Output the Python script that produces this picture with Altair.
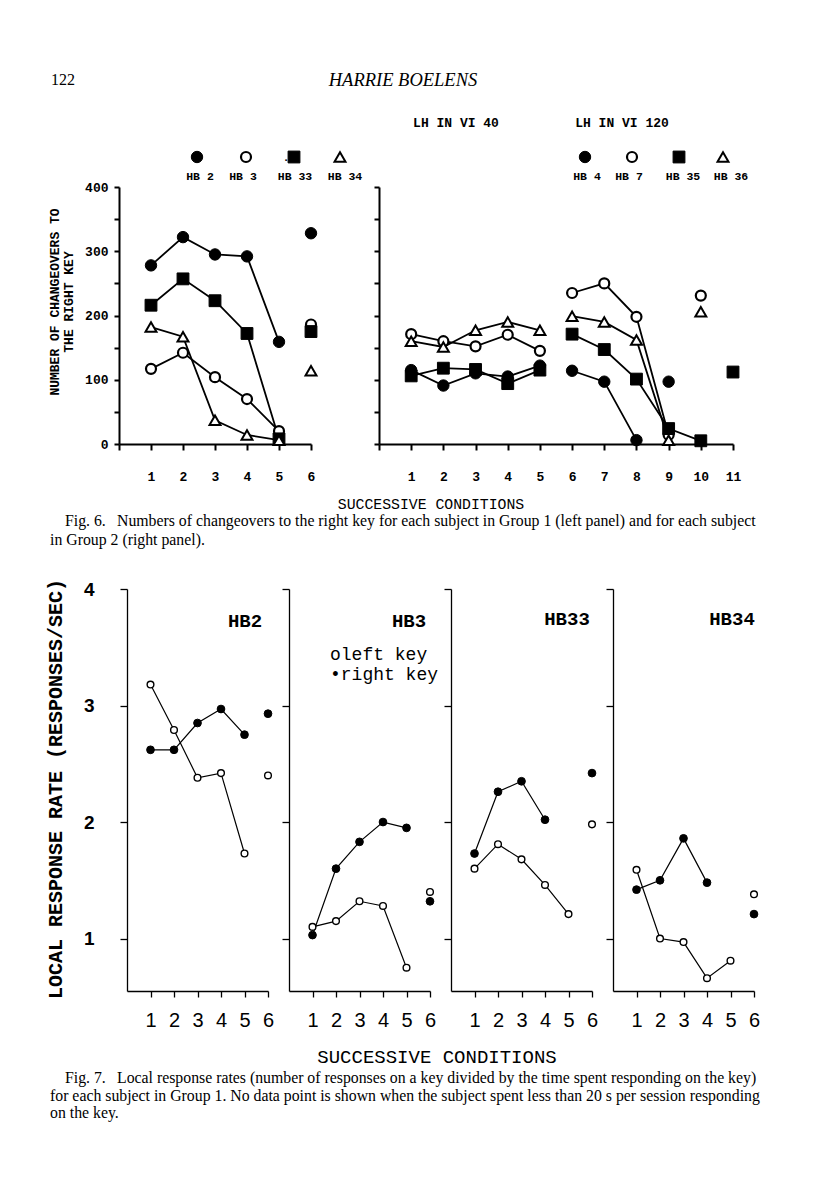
import altair as alt
import pandas as pd

# ---------------- Fig. 6: number of changeovers to the right key ----------------
g1_conditions = [1, 2, 3, 4, 5, 6]
hb2_changeovers = [278, 322, 295, 292, 159, 328]
hb3_changeovers = [117, 142, 104, 70, 20, 186]
hb33_changeovers = [216, 257, 223, 172, 8, 175]
hb34_changeovers = [182, 167, 37, 14, 6, 114]
g1_connected = [[1, 2, 3, 4, 5]]          # condition 6 plotted on its own

g2_conditions = [1, 2, 3, 4, 5, 6, 7, 8, 9, 10, 11]
hb4_changeovers = [115, 91, 110, 105, 122, 114, 97, 6, 97]
hb7_changeovers = [171, 160, 152, 170, 145, 235, 250, 198, 14, 231]
hb35_changeovers = [106, 118, 116, 94, 115, 171, 147, 101, 24, 5, 112]
hb36_changeovers = [160, 151, 177, 190, 177, 199, 190, 162, 6, 206]
hb4_connected = [[1, 2, 3, 4, 5], [6, 7, 8]]
hb7_connected = [[1, 2, 3, 4, 5], [6, 7, 8, 9]]
hb35_connected = [[1, 2, 3, 4, 5], [6, 7, 8, 9, 10]]
hb36_connected = [[1, 2, 3, 4, 5], [6, 7, 8, 9]]

# ---------------- Fig. 7: local response rates (responses/sec) ----------------
f7_conditions = [1, 2, 3, 4, 5, 6]
f7_connected = [[1, 2, 3, 4, 5]]
hb2_left = [3.18, 2.79, 2.38, 2.42, 1.73, 2.40]
hb2_right = [2.62, 2.62, 2.85, 2.97, 2.75, 2.93]
hb3_left = [1.10, 1.15, 1.32, 1.28, 0.75, 1.40]
hb3_right = [1.03, 1.60, 1.83, 2.00, 1.95, 1.32]
hb33_left = [1.60, 1.81, 1.68, 1.46, 1.21, 1.98]
hb33_right = [1.73, 2.26, 2.35, 2.02, None, 2.42]
hb34_left = [1.59, 1.00, 0.97, 0.66, 0.81, 1.38]
hb34_right = [1.42, 1.50, 1.86, 1.48, None, 1.21]

g1_labels = ["HB 2", "HB 3", "HB 33", "HB 34"]
g2_labels = ["HB 4", "HB 7", "HB 35", "HB 36"]

MONO = "Liberation Mono"
SANS = "Liberation Sans"
SERIF = "Liberation Serif"
ONE = pd.DataFrame({"k": [0]})
CAP = 15.8  # caption font size


def series_frame(conds, values, runs):
    rows = []
    for c, v in zip(conds, values):
        if v is None:
            continue
        run = -1
        for i, r in enumerate(runs):
            if c in r:
                run = i
        rows.append({"cond": c, "value": v, "run": run})
    return pd.DataFrame(rows)


def layers_for(series, x_enc, y_enc, line_width):
    lines, points = [], []
    for df, style in series:
        lines.append(
            alt.Chart(df).transform_filter("datum.run >= 0")
            .mark_line(color="black", strokeWidth=line_width)
            .encode(x=x_enc, y=y_enc, detail="run:N")
        )
        points.append(alt.Chart(df).mark_point(**style).encode(x=x_enc, y=y_enc))
    return lines + points


def txt(s, x, y, size, font=MONO, weight="normal", align="left", angle=None,
        style=None, baseline="middle"):
    kw = dict(text=s, font=font, fontSize=size, fontWeight=weight, align=align,
              baseline=baseline, color="black")
    if angle is not None:
        kw["angle"] = angle
    if style is not None:
        kw["fontStyle"] = style
    return alt.Chart(ONE).mark_text(**kw).encode(x=alt.value(x), y=alt.value(y))


def sym(style, x, y):
    return alt.Chart(ONE).mark_point(**style).encode(x=alt.value(x), y=alt.value(y))


def spacer(w, h, top, bottom):
    return (alt.Chart(ONE).mark_rect(fill="white", opacity=0)
            .encode(x=alt.value(0), x2=alt.value(w), y=alt.value(top), y2=alt.value(bottom))
            .properties(width=w, height=h))


# marker styles (top figure)
T_FCIRC = dict(shape="circle", filled=True, fill="black", stroke="black", strokeWidth=1, size=130, opacity=1)
T_OCIRC = dict(shape="circle", filled=True, fill="white", stroke="black", strokeWidth=2.2, size=100, opacity=1)
T_FSQ = dict(shape="square", filled=True, fill="black", stroke="black", strokeWidth=1, size=140, opacity=1)
T_OTRI = dict(shape="triangle-up", filled=True, fill="white", stroke="black", strokeWidth=2, size=120, opacity=1)
# marker styles (bottom figure)
B_FCIRC = dict(shape="circle", filled=True, fill="black", stroke="black", strokeWidth=1, size=60, opacity=1)
B_OCIRC = dict(shape="circle", filled=True, fill="white", stroke="black", strokeWidth=1.4, size=45, opacity=1)

axis_common = dict(title=None, grid=False, domainColor="black", tickColor="black",
                   labelColor="black", labelFlush=False, labelOverlap=False)


def top_x(n):
    return alt.X("cond:Q", scale=alt.Scale(domain=[0, n], nice=False, zero=False),
                 axis=alt.Axis(values=list(range(0, n + 1)),
                               labelExpr="datum.value == 0 ? '' : datum.label",
                               tickSize=6, tickWidth=2, domainWidth=2,
                               labelFont=MONO, labelFontSize=13, labelFontWeight="bold",
                               labelPadding=20, **axis_common))


def top_y(show):
    return alt.Y("value:Q", scale=alt.Scale(domain=[0, 400], nice=False),
                 axis=alt.Axis(values=list(range(0, 401, 50)),
                               labelExpr="datum.value % 100 == 0 ? datum.label : ''",
                               labels=show, tickSize=5, tickWidth=2, domainWidth=2,
                               labelFont=MONO, labelFontSize=13, labelFontWeight="bold",
                               labelPadding=6, **axis_common))


bot_x = alt.X("cond:Q", scale=alt.Scale(domain=[0, 6], nice=False, zero=False),
              axis=alt.Axis(values=[1, 2, 3, 4, 5, 6], tickSize=6, tickWidth=1.3,
                            domainWidth=1.3, labelFont=SANS, labelFontSize=20,
                            labelPadding=13, **axis_common))


def bot_y(show):
    return alt.Y("value:Q", scale=alt.Scale(domain=[0.55, 4], nice=False, zero=False),
                 axis=alt.Axis(values=[1, 2, 3, 4], labels=show, tickSize=7, tickWidth=1.3,
                               domainWidth=1.3, labelFont=SANS, labelFontSize=19,
                               labelFontWeight="bold", labelPadding=26, **axis_common))


# ---------------- top-left panel (Group 1) ----------------
tl_x, tl_y = top_x(6), top_y(True)
tl_series = [
    (series_frame(g1_conditions, hb2_changeovers, g1_connected), T_FCIRC),
    (series_frame(g1_conditions, hb3_changeovers, g1_connected), T_OCIRC),
    (series_frame(g1_conditions, hb33_changeovers, g1_connected), T_FSQ),
    (series_frame(g1_conditions, hb34_changeovers, g1_connected), T_OTRI),
]
tl_layers = layers_for(tl_series, tl_x, tl_y, 1.8)
tl_layers += [
    txt("122", -68, -107, 16, font=SERIF),
    txt("HARRIE BOELENS", 284, -107, 18.5, font=SERIF, align="center", style="italic"),
    sym(T_FCIRC, 78, -30), sym(T_OCIRC, 127, -30), sym(T_FSQ, 175, -30), sym(T_OTRI, 221, -30),
    txt(".", 167, -29, 11, weight="bold", align="center"),
    txt(g1_labels[0], 81, -10, 11.5, weight="bold", align="center"),
    txt(g1_labels[1], 124, -10, 11.5, weight="bold", align="center"),
    txt(g1_labels[2], 176, -10, 11.5, weight="bold", align="center"),
    txt(g1_labels[3], 226, -10, 11.5, weight="bold", align="center"),
    txt("NUMBER OF CHANGEOVERS TO", -64, 115, 13, weight="bold", align="center", angle=270),
    txt("THE RIGHT KEY", -50, 115, 13, weight="bold", align="center", angle=270),
    txt("SUCCESSIVE CONDITIONS", 312, 318, 14.8, align="center"),
    txt("Fig. 6.", -54, 334, CAP, font=SERIF),
    txt("Numbers of changeovers to the right key for each subject in Group 1 (left panel) and for each subject",
        -2, 334, CAP, font=SERIF),
    txt("in Group 2 (right panel).", -69, 353, CAP, font=SERIF),
]
top_left = alt.layer(*tl_layers).properties(width=192, height=257)

# ---------------- top-right panel (Group 2) ----------------
tr_x, tr_y = top_x(11), top_y(False)
tr_series = [
    (series_frame(g2_conditions, hb4_changeovers, hb4_connected), T_FCIRC),
    (series_frame(g2_conditions, hb7_changeovers, hb7_connected), T_OCIRC),
    (series_frame(g2_conditions, hb35_changeovers, hb35_connected), T_FSQ),
    (series_frame(g2_conditions, hb36_changeovers, hb36_connected), T_OTRI),
]
tr_layers = layers_for(tr_series, tr_x, tr_y, 1.8)
tr_layers += [
    txt("LH IN VI 40", 77, -64, 13, weight="bold", align="center"),
    txt("LH IN VI 120", 243, -64, 13, weight="bold", align="center"),
    sym(T_FCIRC, 206, -30), sym(T_OCIRC, 253, -30), sym(T_FSQ, 300, -30), sym(T_OTRI, 344, -30),
    txt(g2_labels[0], 208, -10, 11.5, weight="bold", align="center"),
    txt(g2_labels[1], 250, -10, 11.5, weight="bold", align="center"),
    txt(g2_labels[2], 304, -10, 11.5, weight="bold", align="center"),
    txt(g2_labels[3], 352, -10, 11.5, weight="bold", align="center"),
]
top_right = alt.layer(*tr_layers).properties(width=354, height=257)


# ---------------- bottom panels (Fig. 7) ----------------
def bottom_panel(left, right, name, name_x, name_y, show_labels, extra):
    y_enc = bot_y(show_labels)
    series = [
        (series_frame(f7_conditions, left, f7_connected), B_OCIRC),
        (series_frame(f7_conditions, right, f7_connected), B_FCIRC),
    ]
    layers = layers_for(series, bot_x, y_enc, 1.2)
    layers.append(txt(name, name_x, name_y, 19, weight="bold", align="center"))
    layers += extra
    return alt.layer(*layers).properties(width=141, height=402)


b1 = bottom_panel(hb2_left, hb2_right, "HB2", 118, 32, True, [
    txt("LOCAL RESPONSE RATE (RESPONSES/SEC)", -71, 200, 20, weight="bold", align="center", angle=270),
    txt("SUCCESSIVE CONDITIONS", 310, 468, 19, align="center"),
    txt("Fig. 7.", -62, 489, CAP, font=SERIF),
    txt("Local response rates (number of responses on a key divided by the time spent responding on the key)",
        -10, 489, CAP, font=SERIF),
    txt("for each subject in Group 1. No data point is shown when the subject spent less than 20 s per session responding",
        -77, 507, CAP, font=SERIF),
    txt("on the key.", -77, 524, CAP, font=SERIF),
])
b2 = bottom_panel(hb3_left, hb3_right, "HB3", 120, 32, False, [
    txt("oleft key", 41, 66, 18, align="left"),
    txt("\u2022right key", 41, 86, 18, align="left"),
])
b3 = bottom_panel(hb33_left, hb33_right, "HB33", 116, 30, False, [])
b4 = bottom_panel(hb34_left, hb34_right, "HB34", 119, 30, False, [])

top_row = alt.hconcat(spacer(40, 257, -146, 370), top_left, top_right,
                      spacing=68, bounds="flush")
bottom_row = alt.hconcat(spacer(95, 402, -20, 402), b1, b2, b3, b4,
                         spacing=21, bounds="flush")

chart = alt.vconcat(top_row, bottom_row, spacing=12).properties(
    padding={"left": 3, "top": 33, "right": 5, "bottom": 5},
    background="white",
).configure_view(stroke=None)

chart.save("out.html", embed_options={"renderer": "svg", "actions": False})
